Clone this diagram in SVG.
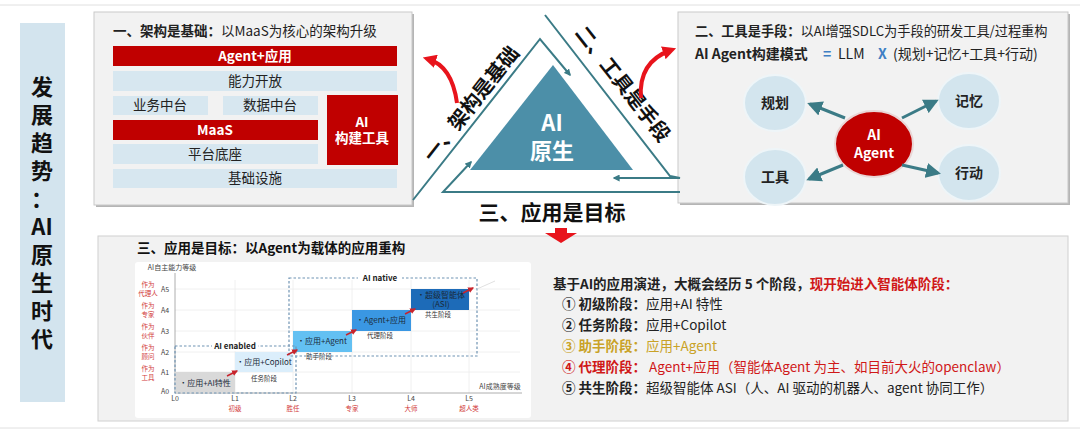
<svg xmlns="http://www.w3.org/2000/svg" width="1080" height="438" viewBox="0 0 1080 438">
<defs>
<style>
text{font-family:"Noto Sans CJK SC","Liberation Sans",sans-serif;}
.b{font-weight:bold;}
.panel{fill:#f2f2f2;stroke:#c9c9c9;stroke-width:1;}
.shadow{fill:#b5b5b5;}
.red{fill:#c00000;}
.lb{fill:#d7e7f0;}
.wt{fill:#fff;font-weight:bold;font-size:13.5px;text-anchor:middle;}
.dt{fill:#222;font-size:13.5px;text-anchor:middle;}
.teal{stroke:#3b7b86;stroke-width:2;fill:none;}
.ag{stroke:#3b7b86;stroke-width:3;fill:none;}
.node{fill:#d3e5ee;stroke:#eef5f8;stroke-width:2;}
.nt{font-size:14px;font-weight:bold;fill:#222;text-anchor:middle;}
.ax{font-size:7px;fill:#444;text-anchor:middle;}
.rl{font-size:6.5px;fill:#d23c3c;text-anchor:middle;}
.st{font-size:8px;fill:#1a2a3a;text-anchor:middle;}
.sm{font-size:6.5px;fill:#333;text-anchor:middle;}
.grid{stroke:#ececec;stroke-width:0.8;}
.dash{fill:none;stroke:#6f93b3;stroke-width:1.2;stroke-dasharray:2.5 2;}
.ra{stroke:#c8242c;stroke-width:1.5;fill:none;}
.body{font-size:13.5px;fill:#222;}
</style>
<marker id="ta" viewBox="0 0 10 10" refX="8" refY="5" markerWidth="5" markerHeight="5" orient="auto"><path d="M0,0 L10,5 L0,10 z" fill="#3b7b86"/></marker>
<marker id="ta2" viewBox="0 0 10 10" refX="8" refY="5" markerWidth="3.5" markerHeight="3.5" orient="auto"><path d="M0,0 L10,5 L0,10 z" fill="#3b7b86"/></marker>
<marker id="ra" viewBox="0 0 10 10" refX="6" refY="5" markerWidth="3.4" markerHeight="3.4" orient="auto"><path d="M0,0 L10,5 L0,10 z" fill="#e8141c"/></marker>
<marker id="rs" viewBox="0 0 10 10" refX="8" refY="5" markerWidth="4" markerHeight="4" orient="auto"><path d="M0,0 L10,5 L0,10 z" fill="#c8242c"/></marker>
</defs>
<rect width="1080" height="438" fill="#fff"/>
<line x1="0" y1="5" x2="1080" y2="5" stroke="#e0e0e0" stroke-width="1"/>
<line x1="0" y1="428" x2="1080" y2="428" stroke="#e0e0e0" stroke-width="1"/>

<g id="side-title">
<rect x="20" y="23" width="45" height="379" fill="#d3e4ee"/>
<text class="b" font-size="22" fill="#111" text-anchor="middle">
<tspan x="42" y="95">发</tspan><tspan x="42" y="123">展</tspan><tspan x="42" y="151">趋</tspan><tspan x="42" y="179">势</tspan><tspan x="42" y="207">：</tspan><tspan x="42" y="235">AI</tspan><tspan x="42" y="263">原</tspan><tspan x="42" y="291">生</tspan><tspan x="42" y="319">时</tspan><tspan x="42" y="347">代</tspan>
</text>
</g>

<g id="panel-arch">
<rect class="shadow" x="96" y="14" width="318" height="193"/>
<rect class="panel" x="94" y="12" width="318" height="193"/>
<text x="113" y="36" font-size="13.5" fill="#222"><tspan class="b">一、架构是基础：</tspan>以MaaS为核心的架构升级</text>
<rect class="red" x="113" y="46" width="284" height="20"/>
<text class="wt" x="255" y="61">Agent+应用</text>
<rect class="lb" x="113" y="71" width="284" height="20"/>
<text class="dt" x="255" y="86">能力开放</text>
<rect class="lb" x="113" y="96" width="95" height="19"/>
<text class="dt" x="160" y="110">业务中台</text>
<rect class="lb" x="223" y="96" width="95" height="19"/>
<text class="dt" x="270" y="110">数据中台</text>
<rect class="red" x="327" y="95" width="71" height="70"/>
<text class="wt" x="362" y="127">AI</text>
<text class="wt" x="362" y="143">构建工具</text>
<rect class="red" x="113" y="120" width="205" height="20"/>
<text class="wt" x="215" y="135">MaaS</text>
<rect class="lb" x="113" y="144" width="205" height="20"/>
<text class="dt" x="215" y="159">平台底座</text>
<rect class="lb" x="113" y="169" width="284" height="19"/>
<text class="dt" x="255" y="183">基础设施</text>
</g>

<g id="core-triangle">
<polygon points="553,65 470,170 633,170" fill="#4c8fa8"/>
<text class="b" font-size="22" fill="#fff" text-anchor="middle" x="552" y="131">AI</text>
<text class="b" font-size="22" fill="#fff" text-anchor="middle" x="552" y="159">原生</text>
<text class="b" font-size="20" fill="#111" text-anchor="middle" dominant-baseline="central" transform="translate(470,103) rotate(-51.7)">一、架构是基础</text>
<text class="b" font-size="20" fill="#111" text-anchor="middle" dominant-baseline="central" transform="translate(624,83) rotate(52)">二、工具是手段</text>
<text class="b" font-size="21" fill="#111" text-anchor="middle" x="552" y="220">三、应用是目标</text>
</g>

<g id="panel-tools">
<rect class="shadow" x="680" y="14" width="390" height="191"/>
<rect class="panel" x="678" y="12" width="390" height="191"/>
<text x="695" y="36" font-size="13.2" fill="#222"><tspan class="b">二、工具是手段：</tspan>以AI增强SDLC为手段的研发工具/过程重构</text>
<text x="695" y="59" font-size="14" fill="#222"><tspan class="b">AI Agent构建模式</tspan><tspan x="823" class="b" fill="#3f7fc4">=</tspan><tspan x="838">LLM</tspan><tspan x="878" class="b" fill="#3f7fc4">X</tspan><tspan x="893">(规划+记忆+工具+行动)</tspan></text>
</g>
<g id="node-plan"><ellipse class="node" cx="775" cy="103" rx="31" ry="28"/><text class="nt" x="775" y="108">规划</text></g>
<g id="node-memory"><ellipse class="node" cx="969" cy="101" rx="31" ry="28"/><text class="nt" x="969" y="106">记忆</text></g>
<g id="node-tool"><ellipse class="node" cx="775" cy="177" rx="31" ry="28"/><text class="nt" x="775" y="182">工具</text></g>
<g id="node-action"><ellipse class="node" cx="969" cy="173" rx="31" ry="28"/><text class="nt" x="969" y="178">行动</text></g>
<g id="node-agent"><ellipse cx="874" cy="144" rx="39" ry="33" fill="#c00000" stroke="#e9d6d6" stroke-width="2"/><text class="nt" x="874" y="140" font-size="15" style="fill:#fff">AI</text><text class="nt" x="874" y="158" font-size="15" style="fill:#fff">Agent</text></g>

<g id="panel-app">
<rect x="98" y="236" width="970" height="185" fill="#f2f2f2" stroke="#d0d0d0"/>
<text x="137" y="253" class="b" font-size="13.5" fill="#111">三、应用是目标：以Agent为载体的应用重构</text>
<rect x="135" y="262" width="396" height="156" rx="3" fill="#fff"/>
</g>

<g id="chart">
<line class="grid" x1="175" y1="372" x2="520" y2="372"/>
<line class="grid" x1="175" y1="352" x2="520" y2="352"/>
<line class="grid" x1="175" y1="331" x2="520" y2="331"/>
<line class="grid" x1="175" y1="310" x2="520" y2="310"/>
<line class="grid" x1="175" y1="289" x2="520" y2="289"/>
<line class="grid" x1="235" y1="280" x2="235" y2="393"/>
<line class="grid" x1="293" y1="280" x2="293" y2="393"/>
<line class="grid" x1="352" y1="280" x2="352" y2="393"/>
<line class="grid" x1="411" y1="280" x2="411" y2="393"/>
<line class="grid" x1="469" y1="280" x2="469" y2="393"/>
<line x1="175" y1="273" x2="175" y2="393" stroke="#9a9a9a" stroke-width="0.8"/>
<line x1="175" y1="393" x2="522" y2="393" stroke="#9a9a9a" stroke-width="0.8"/>
<text class="ax" x="172" y="270">AI自主能力等级</text>
<text class="ax" x="500" y="389">AI成熟度等级</text>
<text class="ax" x="165" y="394">A0</text>
<text class="ax" x="165" y="375">A1</text>
<text class="ax" x="165" y="355">A2</text>
<text class="ax" x="165" y="334">A3</text>
<text class="ax" x="165" y="313">A4</text>
<text class="ax" x="165" y="292">A5</text>
<text class="rl" x="148" y="287">作为</text><text class="rl" x="148" y="295.5">代理人</text>
<text class="rl" x="148" y="308">作为</text><text class="rl" x="148" y="316.5">专家</text>
<text class="rl" x="148" y="329">作为</text><text class="rl" x="148" y="337.5">伙伴</text>
<text class="rl" x="148" y="350">作为</text><text class="rl" x="148" y="358.5">顾问</text>
<text class="rl" x="148" y="371">作为</text><text class="rl" x="148" y="379.5">工具</text>
<text class="ax" x="175" y="401">L0</text>
<text class="ax" x="235" y="401">L1</text>
<text class="ax" x="293" y="401">L2</text>
<text class="ax" x="352" y="401">L3</text>
<text class="ax" x="411" y="401">L4</text>
<text class="ax" x="469" y="401">L5</text>
<text class="rl" x="235" y="411">初级</text>
<text class="rl" x="293" y="411">胜任</text>
<text class="rl" x="352" y="411">专家</text>
<text class="rl" x="411" y="411">大师</text>
<text class="rl" x="469" y="411">超人类</text>
<rect x="175" y="372" width="60" height="21" fill="#d9d9d9"/>
<text class="st" x="205" y="386">•应用+AI特性</text>
<rect x="235" y="352" width="58" height="20" fill="#dbeefb"/>
<text class="st" x="264" y="365">•应用+Copilot</text>
<text class="sm" x="264" y="381">任务阶段</text>
<rect x="293" y="331" width="59" height="21" fill="#63c0f2"/>
<text class="st" x="322" y="344">•应用+Agent</text>
<text class="sm" x="319" y="359">助手阶段</text>
<rect x="352" y="310" width="59" height="21" fill="#3a97e3"/>
<text class="st" x="381" y="323">•Agent+应用</text>
<text class="sm" x="380" y="338">代理阶段</text>
<rect x="411" y="289" width="58" height="21" fill="#1d6bb8"/>
<text class="st" x="441" y="297.5" font-size="6">•超级智能体</text>
<text class="st" x="441" y="306.5" font-size="6">(ASI)</text>
<text class="sm" x="438" y="317">共生阶段</text>
<rect class="dash" x="175" y="346" width="121" height="47"/>
<rect x="212" y="341" width="46" height="10" fill="#fff"/>
<text class="b" font-size="8" fill="#222" text-anchor="middle" x="235" y="349">AI enabled</text>
<rect class="dash" x="289" y="278" width="188" height="78"/>
<rect x="358" y="273" width="44" height="10" fill="#fff"/>
<text class="b" font-size="8" fill="#222" text-anchor="middle" x="380" y="281">AI native</text>
<line x1="477" y1="289" x2="495" y2="281" stroke="#d8d8d8" stroke-width="0.8"/>
</g>

<g id="stages-text">
<text x="553" y="289" class="body b"><tspan>基于AI的应用演进，大概会经历 5 个阶段，</tspan><tspan fill="#d01818">现开始进入智能体阶段：</tspan></text>
<text x="562" y="309" class="body"><tspan class="b">① 初级阶段：</tspan>应用+AI 特性</text>
<text x="562" y="330" class="body"><tspan class="b">② 任务阶段：</tspan>应用+Copilot</text>
<text x="562" y="351" class="body" style="fill:#c9a227"><tspan class="b">③ 助手阶段：</tspan>应用+Agent</text>
<text x="562" y="372" class="body" style="fill:#d01818"><tspan class="b">④ 代理阶段：</tspan> Agent+应用（智能体Agent 为主、如目前大火的openclaw）</text>
<text x="562" y="393" class="body"><tspan class="b">⑤ 共生阶段：</tspan>超级智能体 ASI（人、AI 驱动的机器人、agent 协同工作）</text>
</g>

<g id="connectors">
<polyline class="teal" points="413,200 540,39 570,75" marker-end="url(#ta2)"/>
<polyline class="teal" points="545,15 670,176 680,178 614,178" marker-end="url(#ta2)"/>
<polyline class="teal" points="680,192 443,192 471,162" marker-end="url(#ta2)"/>
<line class="ag" x1="845" y1="118" x2="810" y2="104" marker-end="url(#ta)"/>
<line class="ag" x1="902" y1="118" x2="936" y2="101" marker-end="url(#ta)"/>
<line class="ag" x1="843" y1="165" x2="809" y2="179" marker-end="url(#ta)"/>
<line class="ag" x1="902" y1="165" x2="938" y2="173" marker-end="url(#ta)"/>
<path d="M457,103 Q452,66 428,59" stroke="#e8141c" stroke-width="4" fill="none" marker-end="url(#ra)"/>
<path d="M641,98 Q638,62 671,50" stroke="#e8141c" stroke-width="4" fill="none" marker-end="url(#ra)"/>
<polygon points="555,228 567,228 567,233 577,233 561,243 545,233 555,233" fill="#e8141c"/>
<line class="ra" x1="227" y1="376" x2="237" y2="371" marker-end="url(#rs)"/>
<line class="ra" x1="287" y1="355" x2="297" y2="350" marker-end="url(#rs)"/>
<line class="ra" x1="346" y1="335" x2="356" y2="330" marker-end="url(#rs)"/>
<line class="ra" x1="405" y1="314" x2="415" y2="309" marker-end="url(#rs)"/>
<line class="ra" x1="463" y1="293" x2="473" y2="288" marker-end="url(#rs)"/>
</g>
</svg>
